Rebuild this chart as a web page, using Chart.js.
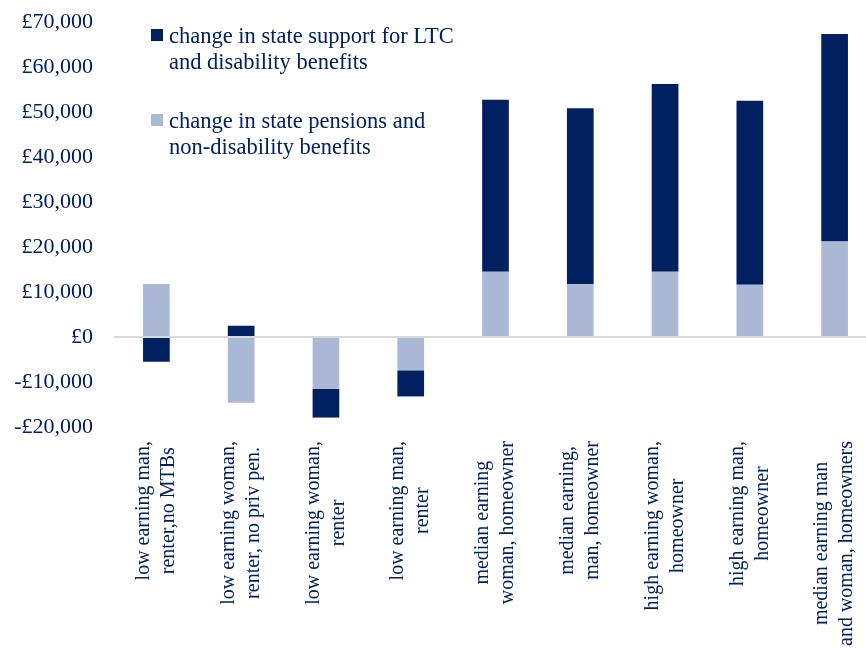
<!DOCTYPE html>
<html>
<head>
<meta charset="utf-8">
<script src="https://cdn.jsdelivr.net/npm/chart.js@4/dist/chart.umd.min.js"></script>
<style>
    body { margin: 0; background: #fff; overflow: hidden; font-family: "Liberation Serif", serif; }
    #wrap { position: absolute; left: 0; top: 0; width: 878px; height: 655px; }
    .legend { position: absolute; left: 151px; color: #002060; font-size: 22.5px; line-height: 26px; }
    .legend .box { position: absolute; left: 0; top: 6px; width: 12px; height: 12px; }
    .legend .txt { position: absolute; left: 18px; top: 0; white-space: nowrap; }
</style>
</head>
<body>
<div id="wrap">
    <canvas id="chart" width="878" height="655"></canvas>
    <div class="legend" style="top: 23px;">
        <div class="box" style="background: #002060;"></div>
        <div class="txt">change in state support for LTC<br>and disability benefits</div>
    </div>
    <div class="legend" style="top: 108px;">
        <div class="box" style="background: #abb9d7;"></div>
        <div class="txt">change in state pensions and<br>non-disability benefits</div>
    </div>
</div>
<script>
const categories = [
    ['low earning man,', 'renter,no MTBs'],
    ['low earning woman,', 'renter, no priv pen.'],
    ['low earning woman,', 'renter'],
    ['low earning man,', 'renter'],
    ['median earning', 'woman, homeowner'],
    ['median earning,', 'man, homeowner'],
    ['high earning woman,', 'homeowner'],
    ['high earning man,', 'homeowner'],
    ['median earning man', 'and woman, homeowners']
];
const pensionsChange = [11800, -14600, -11500, -7400, 14500, 11700, 14500, 11600, 21200];
const ltcChange = [-5500, 2500, -6400, -5800, 38200, 39150, 41700, 40900, 46150];
const yTicks = [-20000, -10000, 0, 10000, 20000, 30000, 40000, 50000, 60000, 70000];

const textColor = '#002060';
const labelFont = '20px "Liberation Serif", serif';

function formatPounds(v) {
    const s = '£' + Math.abs(v).toLocaleString('en-GB');
    return v < 0 ? '-' + s : s;
}

// draws the two-line category labels rotated, lines centred like the original
const categoryLabels = {
    id: 'categoryLabels',
    afterDraw(chart) {
        const ctx = chart.ctx;
        const xScale = chart.scales.x;
        const top = 441;
        const lineHeight = 25;
        ctx.save();
        ctx.font = labelFont;
        ctx.fillStyle = textColor;
        ctx.textAlign = 'center';
        ctx.textBaseline = 'middle';
        categories.forEach((lines, i) => {
            const x = xScale.getPixelForValue(i);
            const maxW = Math.max(...lines.map(l => ctx.measureText(l).width));
            ctx.save();
            ctx.translate(x, top);
            ctx.rotate(-Math.PI / 2);
            lines.forEach((line, j) => {
                ctx.fillText(line, -maxW / 2, (j - (lines.length - 1) / 2) * lineHeight);
            });
            ctx.restore();
        });
        ctx.restore();
    }
};

function initChart() {
    const ctx = document.getElementById('chart').getContext('2d');
    const chart = new Chart(ctx, {
        type: 'bar',
        data: {
            labels: categories.map(c => c.join(' ')),
            datasets: [
                { label: 'change in state pensions and non-disability benefits', data: pensionsChange, backgroundColor: '#abb9d7' },
                { label: 'change in state support for LTC and disability benefits', data: ltcChange, backgroundColor: '#002060' }
            ]
        },
        options: {
            responsive: false,
            animation: false,
            layout: { padding: { top: 22, bottom: 228, right: 1, left: 0 } },
            datasets: { bar: { categoryPercentage: 1, barPercentage: 0.315 } },
            plugins: { legend: { display: false }, tooltip: { enabled: false } },
            scales: {
                x: { stacked: true, display: false },
                y: {
                    stacked: true,
                    min: -20000,
                    max: 70000,
                    afterBuildTicks: scale => { scale.ticks = yTicks.map(v => ({ value: v })); },
                    afterFit: scale => { scale.width = 114; scale.paddingTop = 0; scale.paddingBottom = 0; },
                    border: { display: false },
                    grid: {
                        drawTicks: false,
                        color: c => c.tick && c.tick.value === 0 ? '#d9d9d9' : 'rgba(0,0,0,0)',
                        lineWidth: 2
                    },
                    ticks: {
                        padding: 21,
                        color: textColor,
                        font: { family: '"Liberation Serif", serif', size: 22 },
                        callback: v => formatPounds(v)
                    }
                }
            }
        },
        plugins: [categoryLabels]
    });
    console.log('chartArea', chart.chartArea.top, chart.chartArea.bottom, chart.chartArea.left, chart.chartArea.right);
}

initChart();
</script>
</body>
</html>
